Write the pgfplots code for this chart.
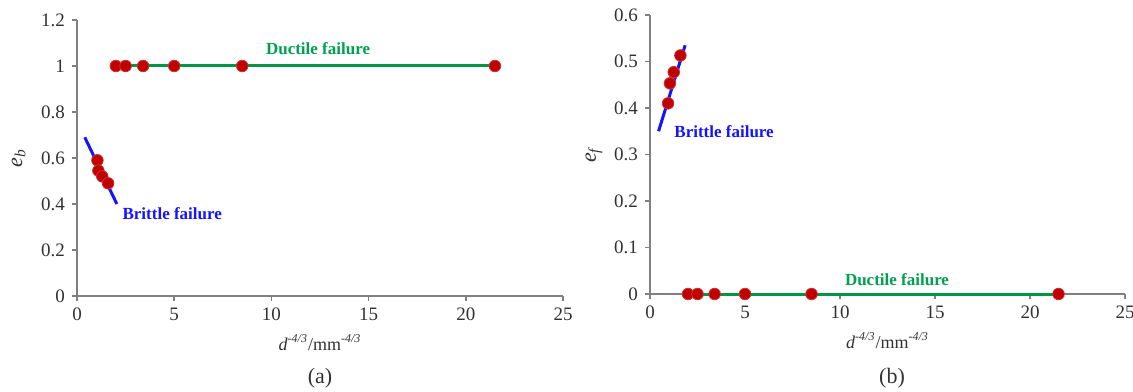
\documentclass[border=0pt]{standalone}
\usepackage{pgfplots}
\pgfplotsset{compat=1.18}
\usepackage{fontspec}
\setmainfont{Liberation Serif}
\definecolor{mk}{RGB}{192,0,0}
\definecolor{gr}{RGB}{0,150,70}
\definecolor{gtxt}{RGB}{0,160,80}
\definecolor{bl}{RGB}{20,20,255}
\definecolor{ax}{RGB}{128,128,128}
\definecolor{tk}{RGB}{50,50,50}
\pgfplotsset{
  myax/.style={
    scale only axis,
    axis x line*=bottom, axis y line*=left,
    axis line style={ax, line width=0.8pt},
    tick style={ax, line width=0.8pt},
    tick align=outside, major tick length=2.5pt,
    xmin=0, xmax=25, xtick={0,5,...,25},
    /pgf/number format/assume math mode=true,
    ticklabel style={font=\fontsize{9.5}{10}\selectfont, text=tk},
    label style={font=\fontsize{9}{10}\selectfont, text=tk},
    ylabel style={font=\fontsize{11}{12}\selectfont},
    clip=false,
    xlabel={\textit{d}\textsuperscript{\textit{-4/3}}/mm\textsuperscript{\textit{-4/3}}},
    xlabel style={yshift=0pt},
    mark options={solid},
  },
  pts/.style={only marks, mark=*, mark size=2.9pt, color=mk, mark options={fill=mk, draw=mk!80}},
}
\begin{document}
\begin{tikzpicture}
\path[use as bounding box] (0,0) rectangle (566.5pt,195.5pt);
% (a)
\begin{axis}[myax, at={(38.5pt,47.5pt)}, anchor=origin, width=243pt, height=138pt,
  ymin=0, ymax=1.2, ytick={0,0.2,...,1.2},
  yticklabel style={/pgf/number format/fixed, /pgf/number format/precision=1},
  ylabel={\textit{e}\textsubscript{\textit{b}}}, ylabel style={yshift=1pt}]
\addplot[color=gr, line width=1.5pt] coordinates {(1.8,1) (21.7,1)};
\addplot[pts] coordinates {(2.0,1) (2.5,1) (3.4,1) (5.0,1) (8.5,1) (21.5,1)};
\addplot[pts] coordinates {(1.05,0.59) (1.1,0.545) (1.3,0.52) (1.6,0.49)};
\addplot[color=bl, line width=1.5pt] coordinates {(0.4,0.69) (2.05,0.40)};
\node[text=gtxt, font=\fontsize{8.5}{9}\selectfont\bfseries] at (axis cs:12.4,1.075) {Ductile failure};
\node[text=bl, font=\fontsize{8.5}{9}\selectfont\bfseries] at (axis cs:4.9,0.36) {Brittle failure};
\end{axis}
\node[font=\fontsize{11}{12}\selectfont, text=tk] at (160pt,6.5pt) {(a)};
% (b)
\begin{axis}[myax, at={(325pt,48.5pt)}, anchor=origin, width=237.5pt, height=139.5pt,
  ymin=0, ymax=0.6, ytick={0,0.1,...,0.6},
  yticklabel style={/pgf/number format/fixed, /pgf/number format/precision=1},
  ylabel={\textit{e}\textsubscript{\textit{f}}}, ylabel style={yshift=-1pt}]
\addplot[color=gr, line width=1.5pt] coordinates {(1.8,0) (21.6,0)};
\addplot[pts] coordinates {(2.0,0) (2.5,0) (3.4,0) (5.0,0) (8.5,0) (21.5,0)};
\addplot[pts] coordinates {(0.95,0.41) (1.05,0.453) (1.25,0.477) (1.6,0.513)};
\addplot[color=bl, line width=1.5pt] coordinates {(0.45,0.35) (1.85,0.535)};
\node[text=gtxt, font=\fontsize{8.5}{9}\selectfont\bfseries] at (axis cs:13.0,0.032) {Ductile failure};
\node[text=bl, font=\fontsize{8.5}{9}\selectfont\bfseries] at (axis cs:3.9,0.35) {Brittle failure};
\end{axis}
\node[font=\fontsize{11}{12}\selectfont, text=tk] at (446pt,6.5pt) {(b)};
\end{tikzpicture}
\end{document}
